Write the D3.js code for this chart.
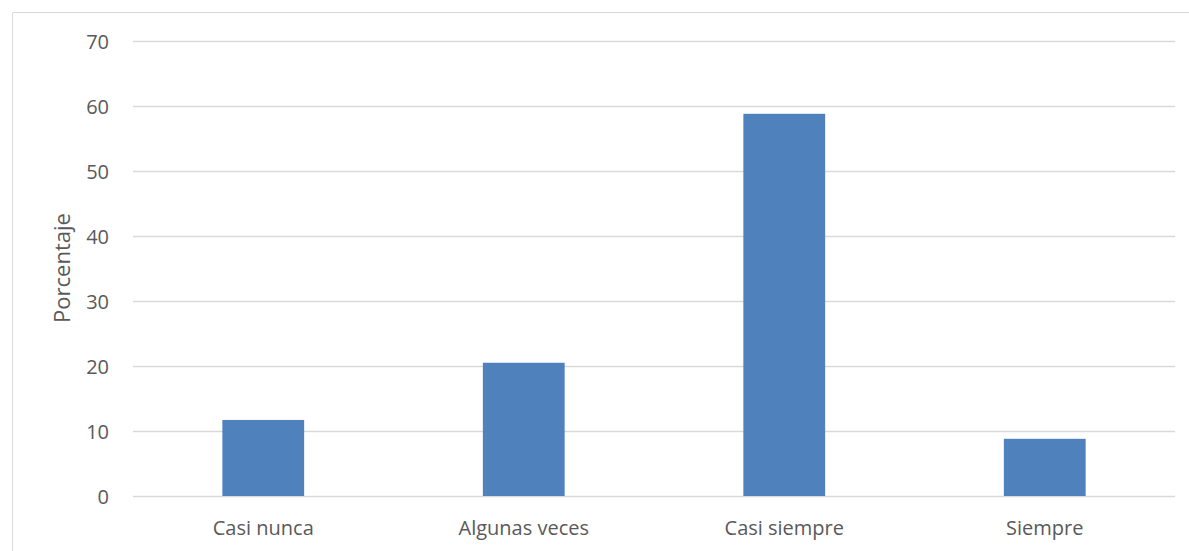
<!DOCTYPE html>
<html>
<head>
<meta charset="utf-8">
<script src="https://cdn.jsdelivr.net/npm/d3@7"></script>
<style>
  html, body { margin: 0; padding: 0; background: #fff; }
  svg { display: block; }
</style>
</head>
<body>
<svg id="chart" width="1189" height="551"></svg>
<script>
const categories = ["Casi nunca", "Algunas veces", "Casi siempre", "Siempre"];
const values = [11.7, 20.5, 58.8, 8.8];
const yTicks = [0, 10, 20, 30, 40, 50, 60, 70];
const yTitle = "Porcentaje";

const W = 1189, H = 551;
const svg = d3.select("#chart");
const font = "'Open Sans', 'Noto Sans', sans-serif";

// chart border
svg.append("path")
  .attr("d", `M12.5,${H} V12.5 H${W}`)
  .attr("fill", "none").attr("stroke", "#d9d9d9").attr("stroke-width", 1);

const x = d3.scaleBand().domain(categories).range([133, 1175]).padding(0);
const y = d3.scaleLinear().domain([0, 70]).range([496, 41]);

// gridlines
svg.append("g").selectAll("line").data(yTicks).join("line")
  .attr("x1", 133).attr("x2", 1175)
  .attr("y1", d => Math.round(y(d)) + 0.5).attr("y2", d => Math.round(y(d)) + 0.5)
  .attr("stroke", "#d9d9d9").attr("stroke-width", 1.3);

// y axis via d3 axis
const yAxis = svg.append("g").attr("transform", "translate(120,0)")
  .call(d3.axisLeft(y).tickValues(yTicks).tickSize(0).tickPadding(0));
yAxis.select(".domain").remove();
yAxis.selectAll("text")
  .attr("x", -11).attr("dy", "0.35em")
  .attr("fill", "#595959").style("font-family", font).style("font-size", "20px");

// bars
const barFrac = 0.314;
svg.append("g").selectAll("rect").data(values).join("rect")
  .attr("x", (d, i) => x(categories[i]) + x.bandwidth() * (1 - barFrac) / 2)
  .attr("width", x.bandwidth() * barFrac)
  .attr("y", d => y(d))
  .attr("height", d => y(0) - y(d))
  .attr("fill", "#4f81bd");

// x axis
const xAxis = svg.append("g").attr("transform", "translate(0,496)")
  .call(d3.axisBottom(x).tickSize(0).tickPadding(0));
xAxis.select(".domain").remove();
xAxis.selectAll("text")
  .attr("y", 39).attr("dy", 0)
  .attr("fill", "#595959").style("font-family", font).style("font-size", "20px");

// y title
svg.append("text")
  .attr("transform", "translate(70,268) rotate(-90)")
  .attr("text-anchor", "middle")
  .attr("fill", "#595959").style("font-family", font).style("font-size", "22px")
  .text(yTitle);
</script>
</body>
</html>
